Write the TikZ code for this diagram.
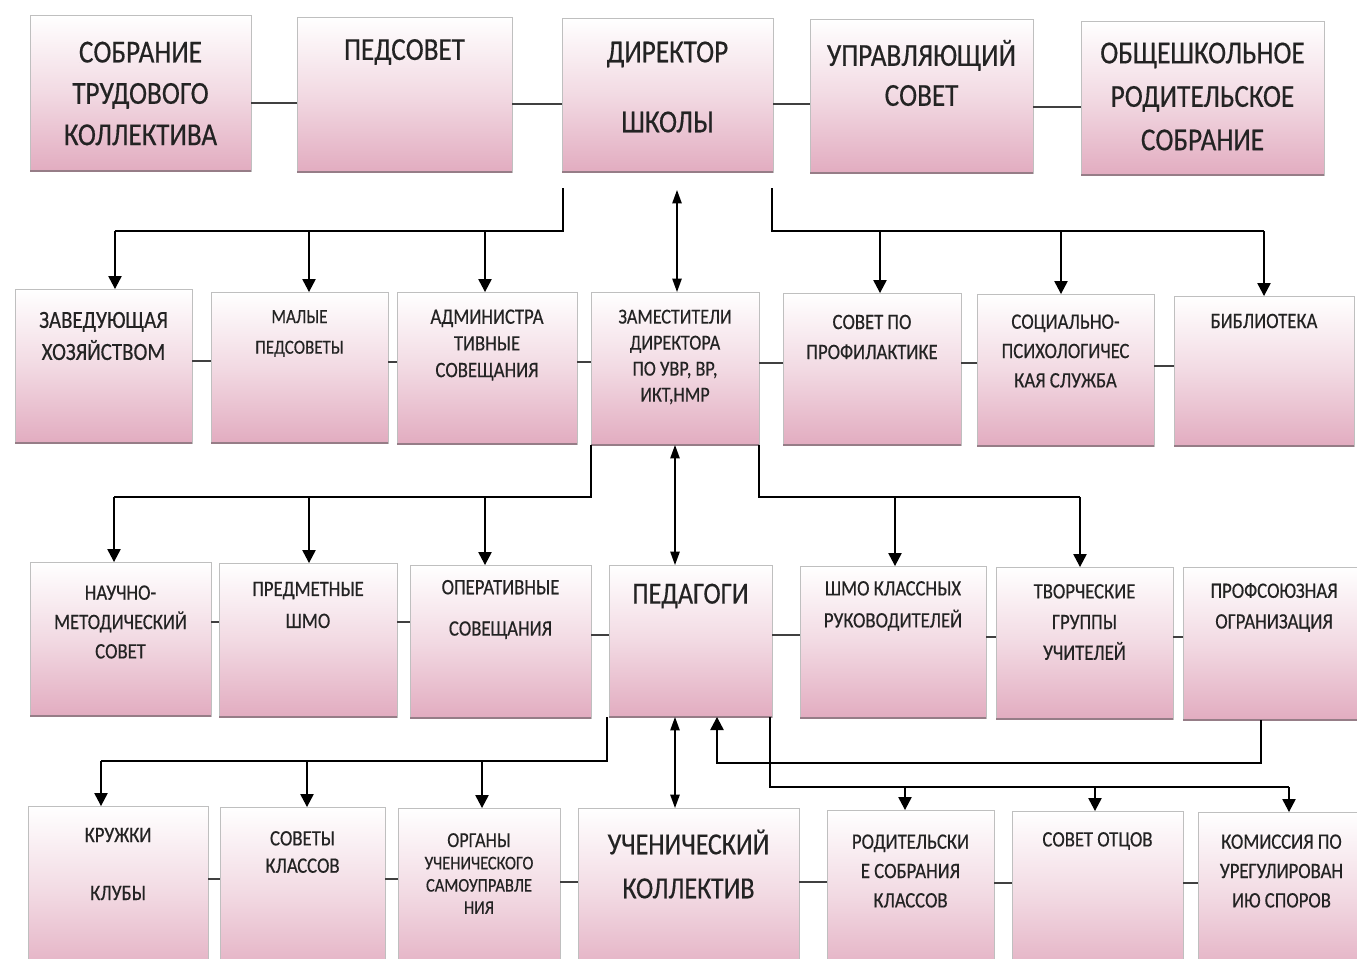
\documentclass[tikz,border=0pt]{standalone}
\usepackage{fontspec}
\usetikzlibrary{arrows.meta,calc}
\newfontfamily\cfont[FakeStretch=0.85,FakeBold=0.4]{Carlito}
\definecolor{pk}{RGB}{226,172,192}
\definecolor{ink}{RGB}{35,35,35}
\definecolor{shd}{RGB}{150,125,135}
\tikzset{
  pbx/.style={draw=black!25, line width=0.5pt, top color=white, bottom color=pk, middle color=pk!45!white, inner sep=0pt, outer sep=0pt},
  shadowline/.style={draw=shd, line width=1.6pt},
  txt/.style={text=ink, align=center, inner sep=0pt},
  ln/.style={draw=black, line width=1.1pt},
  hl/.style={draw=black!75, line width=1.4pt},
  arr/.style={ln, -{Triangle[length=9.75pt,width=10pt]}},
  darr/.style={ln, {Triangle[length=10pt,width=7pt]}-{Triangle[length=10pt,width=7pt]}},
}
\newcommand\pbox[5]{%
  \node[pbx, anchor=north west, minimum width={(#4-#2)*0.75pt}, minimum height={(#5-#3)*0.75pt}] (#1) at (#2,#3) {};
  \draw[shadowline] (#1.south west) -- (#1.south east);}
\newcommand\tx[6]{\coordinate (ty) at (0,#3); \node[txt, font={\cfont\fontsize{#4}{#5}\selectfont}] (#1) at (#2.center |- ty) {#6};}
\newcommand\hc[3]{\coordinate (hcy) at (0,#3); \draw[hl] (#1.east |- hcy) -- (#2.west |- hcy);}
\begin{document}
\begin{tikzpicture}[x=0.75pt,y=-0.75pt]
\useasboundingbox (0,0) rectangle (1357,958);
\clip (0,0) rectangle (1357,958);
\fill[white] (0,0) rectangle (1357,958);
% row 1
\pbox{A}{30}{15}{251}{171}
\pbox{B}{297}{17}{512}{172}
\pbox{C}{562}{18}{773}{172}
\pbox{D}{810}{19}{1033}{173}
\pbox{E}{1081}{21}{1324}{175}
% row 2
\pbox{F}{15}{289}{192}{443}
\pbox{G}{211}{292}{388}{443}
\pbox{H}{397}{292}{577}{444}
\pbox{I}{591}{292}{759}{445}
\pbox{J}{783}{293}{961}{445}
\pbox{K}{977}{294}{1154}{446}
\pbox{L}{1174}{296}{1354}{446}
% row 3
\pbox{M}{30}{562}{211}{716}
\pbox{N}{219}{563}{397}{717}
\pbox{O}{410}{565}{591}{718}
\pbox{P}{609}{565}{772}{717}
\pbox{Q}{800}{566}{986}{718}
\pbox{R}{996}{567}{1173}{719}
\pbox{S}{1183}{567}{1365}{720}
% row 4
\pbox{T}{28}{806}{208}{980}
\pbox{U}{220}{807}{385}{980}
\pbox{V}{398}{808}{560}{980}
\pbox{W}{578}{808}{799}{980}
\pbox{X}{827}{810}{994}{980}
\pbox{Y}{1012}{811}{1183}{980}
\pbox{Z}{1198}{812}{1365}{980}
% texts
\tx{tA}{A}{93.5}{24}{31}{СОБРАНИЕ\\ТРУДОВОГО\\КОЛЛЕКТИВА}
\tx{tB}{B}{52}{24}{31}{ПЕДСОВЕТ}
\tx{tC}{C}{87}{24}{52.5}{ДИРЕКТОР\\ШКОЛЫ}
\tx{tD}{D}{73}{24}{30}{УПРАВЛЯЮЩИЙ\\СОВЕТ}
\tx{tE}{E}{96.5}{24}{32.6}{ОБЩЕШКОЛЬНОЕ\\РОДИТЕЛЬСКОЕ\\СОБРАНИЕ}
\tx{tF}{F}{336}{18.5}{24}{ЗАВЕДУЮЩАЯ\\ХОЗЯЙСТВОМ}
\tx{tG}{G}{333.5}{15}{23}{МАЛЫЕ\\ПЕДСОВЕТЫ}
\tx{tH}{H}{345}{16.5}{20}{АДМИНИСТРА\\ТИВНЫЕ\\СОВЕЩАНИЯ}
\tx{tI}{I}{357}{16}{19.5}{ЗАМЕСТИТЕЛИ\\ДИРЕКТОРА\\ПО УВР, ВР,\\ИКТ,НМР}
\tx{tJ}{J}{337}{16.5}{22.5}{СОВЕТ ПО\\ПРОФИЛАКТИКЕ}
\tx{tK}{K}{351}{16.5}{22}{СОЦИАЛЬНО-\\ПСИХОЛОГИЧЕС\\КАЯ СЛУЖБА}
\tx{tL}{L}{321}{16.5}{22}{БИБЛИОТЕКА}
\tx{tM}{M}{622}{16.5}{22}{НАУЧНО-\\МЕТОДИЧЕСКИЙ\\СОВЕТ}
\tx{tN}{N}{605}{16.5}{24}{ПРЕДМЕТНЫЕ\\ШМО}
\tx{tO}{O}{609.5}{16.5}{31}{ОПЕРАТИВНЫЕ\\СОВЕЩАНИЯ}
\tx{tP}{P}{596}{23}{30}{ПЕДАГОГИ}
\tx{tQ}{Q}{606}{16.5}{24}{ШМО КЛАССНЫХ\\РУКОВОДИТЕЛЕЙ}
\tx{tR}{R}{622}{16.5}{23}{ТВОРЧЕСКИЕ\\ГРУППЫ\\УЧИТЕЛЕЙ}
\tx{tS}{S}{607.5}{16.5}{23}{ПРОФСОЮЗНАЯ\\ОГРАНИЗАЦИЯ}
\tx{tT}{T}{864}{16.5}{43.5}{КРУЖКИ\\КЛУБЫ}
\tx{tU}{U}{852}{16.5}{20.5}{СОВЕТЫ\\КЛАССОВ}
\tx{tV}{V}{873.5}{14.5}{16.7}{{\fontsize{16}{16.7}\selectfont ОРГАНЫ}\\УЧЕНИЧЕСКОГО\\САМОУПРАВЛЕ\\НИЯ}
\tx{tW}{W}{864}{23}{33}{УЧЕНИЧЕСКИЙ\\КОЛЛЕКТИВ}
\tx{tX}{X}{871}{16.5}{22}{РОДИТЕЛЬСКИ\\Е СОБРАНИЯ\\КЛАССОВ}
\tx{tY}{Y}{841}{16.5}{22}{СОВЕТ ОТЦОВ}
\tx{tZ}{Z}{871}{16.5}{22}{КОМИССИЯ ПО\\УРЕГУЛИРОВАН\\ИЮ СПОРОВ}
% horizontal links
\hc{A}{B}{103}\hc{B}{C}{104}\hc{C}{D}{104}\hc{D}{E}{107}
\hc{F}{G}{361}\hc{G}{H}{362}\hc{H}{I}{362}\hc{I}{J}{363}\hc{J}{K}{363}\hc{K}{L}{366}
\hc{M}{N}{622}\hc{N}{O}{622}\hc{O}{P}{635}\hc{P}{Q}{635}\hc{Q}{R}{637}\hc{R}{S}{637}
\hc{T}{U}{879}\hc{U}{V}{879}\hc{V}{W}{882}\hc{W}{X}{882}\hc{X}{Y}{883}\hc{Y}{Z}{883}
% director buses
\coordinate (bA) at (115,231);
\draw[ln] ($(C.south west)+(1,16)$) |- (bA);
\coordinate (bB) at (1264,231);
\draw[ln] ($(C.south east)+(-1,16)$) |- (bB);
\foreach \n/\x in {F/115,G/309,H/485,J/880,K/1061,L/1264}{\coordinate (t) at (\x,231); \draw[arr] (t) -- (t |- \n.north);}
\coordinate (d1) at (677,190);
\draw[darr] (d1) -- (d1 |- I.north);
% deputies buses
\coordinate (bC) at (114,497);
\draw[ln] (I.south west) |- (bC);
\coordinate (bD) at (1080,497);
\draw[ln] (I.south east) |- (bD);
\foreach \n/\x in {M/114,N/309,O/485,Q/895,R/1080}{\coordinate (t) at (\x,497); \draw[arr] (t) -- (t |- \n.north);}
\coordinate (d2) at (675,0);
\draw[darr] (I.south -| d2) -- (P.north -| d2);
% teachers buses
\coordinate (bE) at (101,761);
\draw[ln] ($(P.south west)+(-2,0)$) |- (bE);
\coordinate (bF) at (1289,787);
\draw[ln] ($(P.south east)+(-2,0)$) |- (bF);
\foreach \n/\x in {T/101,U/307,V/482}{\coordinate (t) at (\x,761); \draw[arr] (t) -- (t |- \n.north);}
\foreach \n/\x in {X/905,Y/1095,Z/1289}{\coordinate (t) at (\x,787); \draw[arr] (t) -- (t |- \n.north);}
\draw[darr] (P.south -| d2) -- (W.north -| d2);
\coordinate (s1) at (1261,763);
\coordinate (s2) at (717,763);
\draw[arr] (S.south -| s1) |- (s2) -- (P.south -| s2);
\end{tikzpicture}
\end{document}
